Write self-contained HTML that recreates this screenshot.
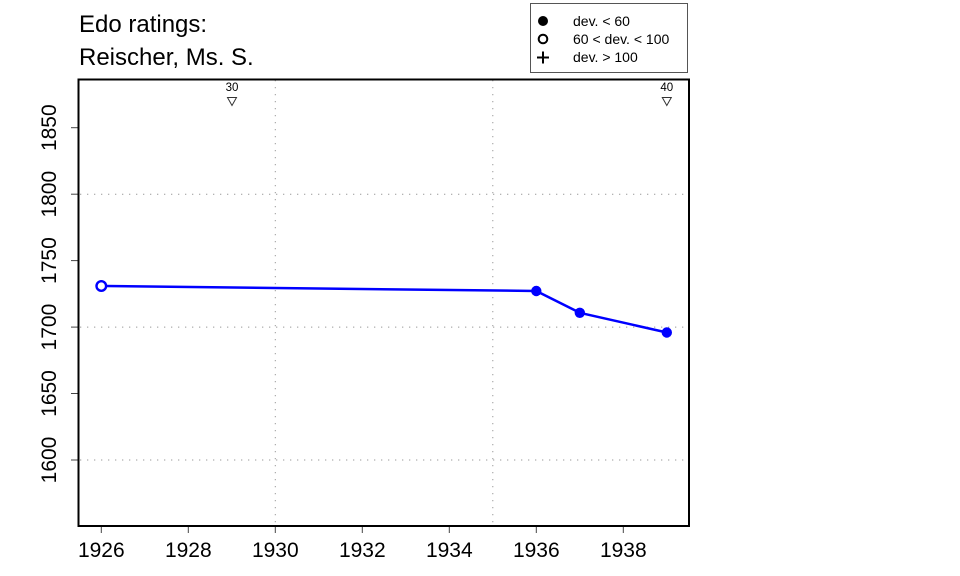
<!DOCTYPE html>
<html>
<head>
<meta charset="utf-8">
<style>
html,body{margin:0;padding:0;background:#fff;}
svg{display:block;}
text{font-family:"Liberation Sans",Arial,sans-serif;fill:#000;}
</style>
</head>
<body>
<svg width="960" height="576" viewBox="0 0 960 576" xmlns="http://www.w3.org/2000/svg">
  <rect x="0" y="0" width="960" height="576" fill="#fff"/>

  <!-- Title -->
  <text x="79" y="32" font-size="24">Edo ratings:</text>
  <text x="79" y="65" font-size="24">Reischer, Ms. S.</text>

  <!-- Legend -->
  <rect x="530.5" y="3.5" width="157" height="69" fill="#fff" stroke="#555" stroke-width="1"/>
  <circle cx="543" cy="21" r="5" fill="#000"/>
  <circle cx="543" cy="39" r="4.3" fill="none" stroke="#000" stroke-width="2"/>
  <path d="M537 57.5 H549 M543 51.5 V63.5" stroke="#000" stroke-width="2"/>
  <text x="573" y="26" font-size="14">dev. &lt; 60</text>
  <text x="573" y="44" font-size="14">60 &lt; dev. &lt; 100</text>
  <text x="573" y="62" font-size="14">dev. &gt; 100</text>

  <!-- Grid -->
  <g stroke="#999" stroke-width="1" stroke-dasharray="1.3 5.7" fill="none">
    <line x1="80" y1="460" x2="688" y2="460"/>
    <line x1="80" y1="327.1" x2="688" y2="327.1"/>
    <line x1="80" y1="194.2" x2="688" y2="194.2"/>
    <line x1="275.3" y1="80" x2="275.3" y2="525"/>
    <line x1="492.8" y1="80" x2="492.8" y2="525"/>
  </g>

  <!-- Ticks -->
  <g stroke="#444" stroke-width="1">
    <line x1="101.3" y1="526" x2="101.3" y2="533"/>
    <line x1="188.3" y1="526" x2="188.3" y2="533"/>
    <line x1="275.3" y1="526" x2="275.3" y2="533"/>
    <line x1="362.3" y1="526" x2="362.3" y2="533"/>
    <line x1="449.3" y1="526" x2="449.3" y2="533"/>
    <line x1="536.3" y1="526" x2="536.3" y2="533"/>
    <line x1="623.3" y1="526" x2="623.3" y2="533"/>
    <line x1="71" y1="460" x2="78" y2="460"/>
    <line x1="71" y1="393.5" x2="78" y2="393.5"/>
    <line x1="71" y1="327.1" x2="78" y2="327.1"/>
    <line x1="71" y1="260.6" x2="78" y2="260.6"/>
    <line x1="71" y1="194.2" x2="78" y2="194.2"/>
    <line x1="71" y1="127.7" x2="78" y2="127.7"/>
  </g>

  <!-- X labels -->
  <g font-size="21" text-anchor="middle">
    <text x="101.3" y="557">1926</text>
    <text x="188.3" y="557">1928</text>
    <text x="275.3" y="557">1930</text>
    <text x="362.3" y="557">1932</text>
    <text x="449.3" y="557">1934</text>
    <text x="536.3" y="557">1936</text>
    <text x="623.3" y="557">1938</text>
  </g>

  <!-- Y labels -->
  <g font-size="21" text-anchor="middle">
    <text transform="translate(56,460) rotate(-90)">1600</text>
    <text transform="translate(56,393.5) rotate(-90)">1650</text>
    <text transform="translate(56,327.1) rotate(-90)">1700</text>
    <text transform="translate(56,260.6) rotate(-90)">1750</text>
    <text transform="translate(56,194.2) rotate(-90)">1800</text>
    <text transform="translate(56,127.7) rotate(-90)">1850</text>
  </g>

  <!-- Markers at top -->
  <g font-size="11.5" text-anchor="middle">
    <text x="232" y="91">30</text>
    <text x="666.8" y="91">40</text>
  </g>
  <g fill="none" stroke="#333" stroke-width="1">
    <path d="M227.5 97.5 L236.5 97.5 L232 105.5 Z"/>
    <path d="M662.3 97.5 L671.3 97.5 L666.8 105.5 Z"/>
  </g>

  <!-- Data -->
  <polyline points="106.3,286 536.3,291 579.8,312.8 666.8,332.5" fill="none" stroke="#0000ff" stroke-width="2.5" stroke-linejoin="round"/>
  <circle cx="101.3" cy="286" r="4.8" fill="#fff" stroke="#0000ff" stroke-width="2.4"/>
  <circle cx="536.3" cy="291" r="5.2" fill="#0000ff"/>
  <circle cx="579.8" cy="312.8" r="5.2" fill="#0000ff"/>
  <circle cx="666.8" cy="332.5" r="5.2" fill="#0000ff"/>

  <!-- Plot box -->
  <rect x="78.5" y="79.5" width="610.5" height="446.5" fill="none" stroke="#000" stroke-width="2"/>
</svg>
</body>
</html>
